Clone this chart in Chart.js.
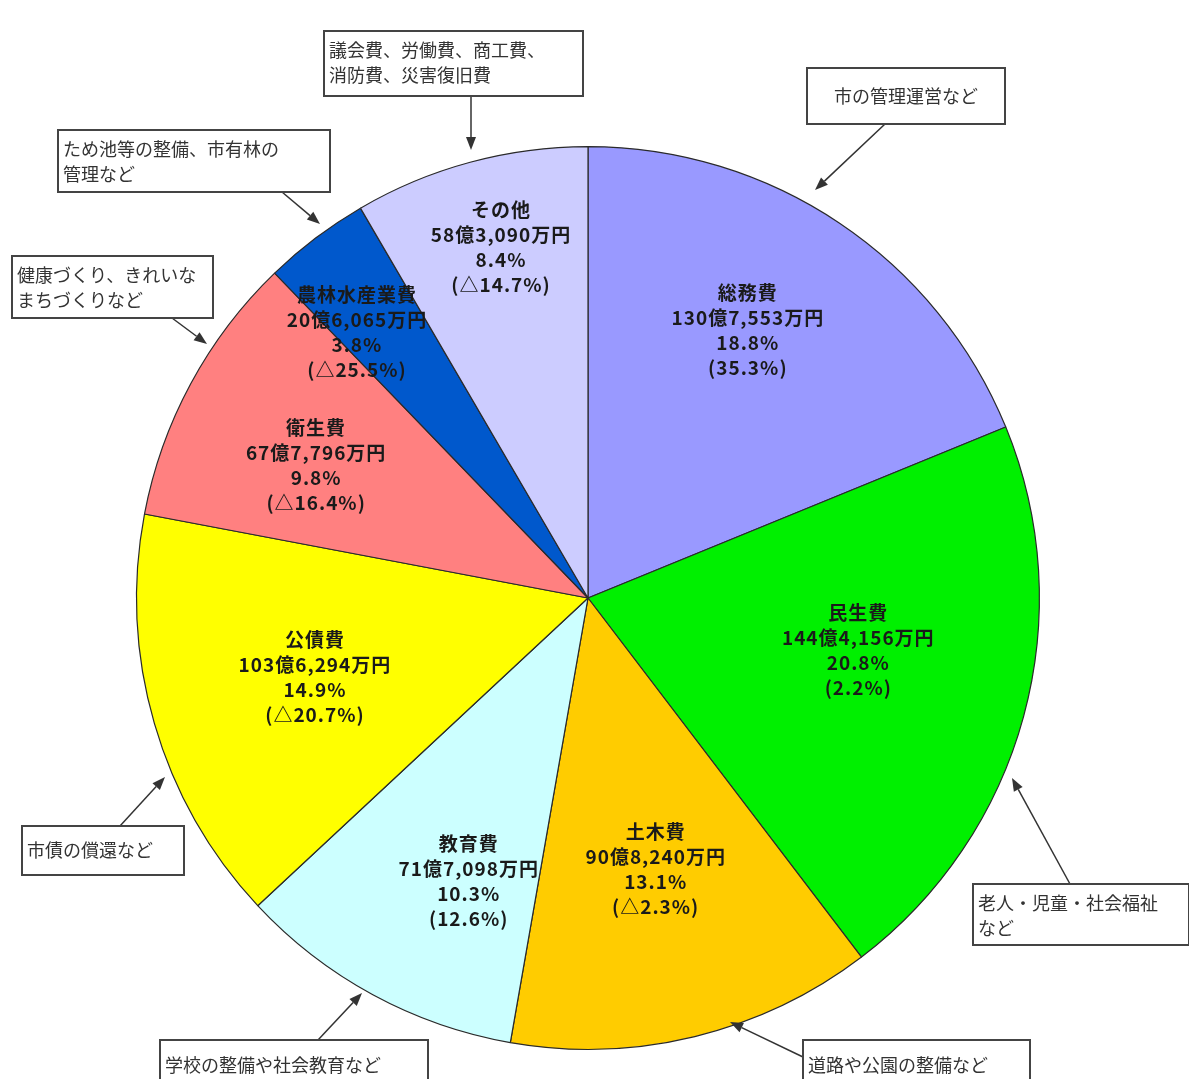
<!DOCTYPE html>
<html lang="ja">
<head>
<meta charset="utf-8">
<title>歳出の内訳</title>
<script src="https://cdn.jsdelivr.net/npm/chart.js@4.4.1/dist/chart.umd.min.js"></script>
<style>
  body { margin: 0; background: #fff; }
  canvas { display: block; }
</style>
</head>
<body>
<canvas id="budgetPie" width="1189" height="1079"></canvas>
<script>
// 費目（12時から時計回り）
const categories = ['総務費', '民生費', '土木費', '教育費', '公債費', '衛生費', '農林水産業費', 'その他'];
// 金額（万円）
const amounts = [1307553, 1444156, 908240, 717098, 1036294, 677796, 206065, 583090];
// 構成比（%）
const shares = [18.8, 20.8, 13.1, 10.3, 14.9, 9.8, 3.8, 8.4];
// 前年度比（%）
const changes = [35.3, 2.2, -2.3, 12.6, -20.7, -16.4, -25.5, -14.7];
const sliceColors = ['#9999ff', '#00f000', '#ffcc00', '#ccffff', '#ffff00', '#ff8080', '#0058cc', '#ccccff'];

// 吹き出し
const notes = [
    { lines: ['議会費、労働費、商工費、', '消防費、災害復旧費'], box: [324, 31, 259, 65], from: [471, 96], to: [471, 150] },
    { lines: ['市の管理運営など'], box: [807, 68, 198, 56], from: [885, 124], to: [815, 190], center: true },
    { lines: ['ため池等の整備、市有林の', '管理など'], box: [58, 130, 272, 62], from: [282, 192], to: [320, 224] },
    { lines: ['健康づくり、きれいな', 'まちづくりなど'], box: [12, 256, 201, 62], from: [172, 318], to: [207, 344] },
    { lines: ['市債の償還など'], box: [22, 826, 162, 49], from: [120, 826], to: [165, 777] },
    { lines: ['老人・児童・社会福祉', 'など'], box: [973, 884, 216, 61], from: [1070, 884], to: [1012, 778] },
    { lines: ['学校の整備や社会教育など'], box: [160, 1040, 268, 50], from: [318, 1040], to: [362, 993] },
    { lines: ['道路や公園の整備など'], box: [803, 1040, 227, 50], from: [803, 1057], to: [730, 1022] }
];

// ラベル位置の微調整（角度のずれ[度]、半径比）
const labelShift = [-3, -4.2, -0.3, -5.6, -0.1, -2.4, -3.9, 1.2];
const labelRadius = [0.69, 0.61, 0.62, 0.68, 0.63, 0.67, 0.78, 0.8];

function formatAmount(v) {
    const oku = Math.floor(v / 10000);
    const man = v % 10000;
    return oku + '億' + man.toLocaleString('en-US') + '万円';
}
function formatChange(c) {
    return c < 0 ? '(△' + Math.abs(c).toFixed(1) + '%)' : '(' + c.toFixed(1) + '%)';
}

function drawArrow(ctx, from, to) {
    const ang = Math.atan2(to[1] - from[1], to[0] - from[0]);
    const len = 13, half = 5;
    const bx = to[0] - Math.cos(ang) * len;
    const by = to[1] - Math.sin(ang) * len;
    ctx.beginPath();
    ctx.moveTo(from[0], from[1]);
    ctx.lineTo(bx, by);
    ctx.stroke();
    ctx.beginPath();
    ctx.moveTo(to[0], to[1]);
    ctx.lineTo(bx + Math.sin(ang) * half, by - Math.cos(ang) * half);
    ctx.lineTo(bx - Math.sin(ang) * half, by + Math.cos(ang) * half);
    ctx.closePath();
    ctx.fill();
}

const labelPlugin = {
    id: 'sliceLabels',
    afterDraw(chart) {
        const ctx = chart.ctx;
        const arcs = chart.getDatasetMeta(0).data;
        ctx.save();
        // 扇形の中のラベル
        ctx.fillStyle = '#1a1a1a';
        ctx.textAlign = 'center';
        ctx.textBaseline = 'middle';
        ctx.font = 'bold 19px "Noto Sans CJK JP"';
        ctx.letterSpacing = '1px';
        arcs.forEach((arc, i) => {
            const mid = (arc.startAngle + arc.endAngle) / 2 + labelShift[i] * Math.PI / 180;
            const r = arc.outerRadius * labelRadius[i];
            const cx = arc.x + Math.cos(mid) * r;
            const cy = arc.y + Math.sin(mid) * r;
            const lines = [categories[i], formatAmount(amounts[i]), shares[i].toFixed(1) + '%', formatChange(changes[i])];
            lines.forEach((t, k) => ctx.fillText(t, cx, cy + (k - 1.5) * 25));
        });
        // 吹き出し
        ctx.letterSpacing = '0px';
        ctx.font = '18px "Noto Sans CJK JP"';
        ctx.strokeStyle = '#333';
        ctx.fillStyle = '#333';
        ctx.lineWidth = 1.5;
        notes.forEach(n => drawArrow(ctx, n.from, n.to));
        notes.forEach(n => {
            const [x, y, w, h] = n.box;
            ctx.fillStyle = '#fff';
            ctx.fillRect(x, y, w, h);
            ctx.lineWidth = 2;
            ctx.strokeStyle = '#444';
            ctx.strokeRect(x, y, w, h);
            ctx.fillStyle = '#333';
            ctx.textAlign = n.center ? 'center' : 'left';
            const tx = n.center ? x + w / 2 : x + 5;
            const firstY = n.lines.length === 1 ? y + h / 2 : y + 19;
            n.lines.forEach((t, k) => ctx.fillText(t, tx, firstY + k * 25));
        });
        ctx.restore();
    }
};

// 扇形は構成比から描く
new Chart(document.getElementById('budgetPie').getContext('2d'), {
    type: 'pie',
    data: {
        labels: categories,
        datasets: [{
            data: shares,
            backgroundColor: sliceColors,
            borderColor: '#2a2a2a',
            borderWidth: 1.2
        }]
    },
    options: {
        responsive: false,
        animation: false,
        layout: {
            padding: { top: 146, bottom: 29, left: 136, right: 149 }
        },
        plugins: {
            legend: { display: false },
            tooltip: { enabled: false }
        }
    },
    plugins: [labelPlugin]
});
</script>
</body>
</html>
